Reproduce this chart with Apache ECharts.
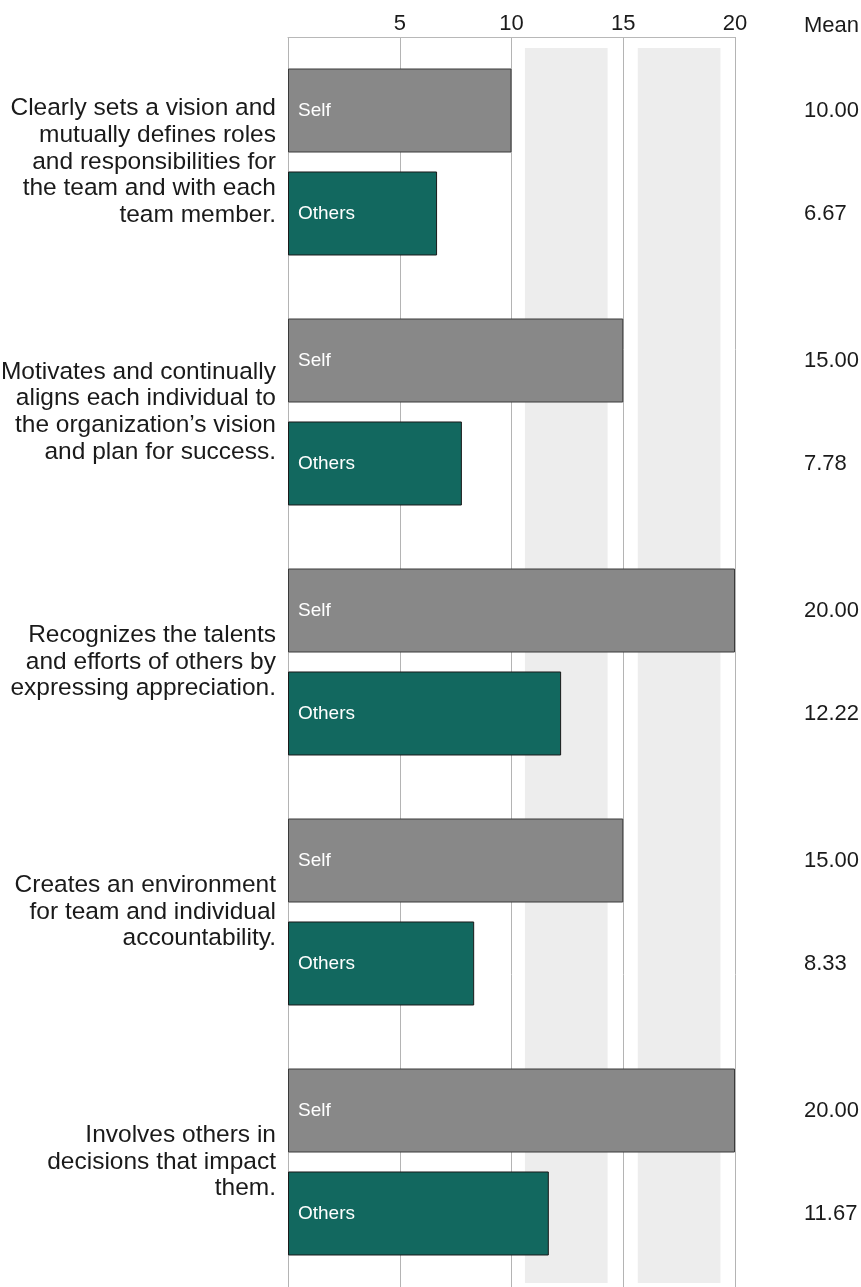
<!DOCTYPE html>
<html>
<head>
<meta charset="utf-8">
<script src="https://cdn.jsdelivr.net/npm/echarts@6/dist/echarts.min.js"></script>
<style>
  html, body { margin: 0; padding: 0; background: #ffffff; }
  #chart { width: 861px; height: 1287px; }
</style>
</head>
<body>
<div id="chart"></div>
<script>
// Leadership items, self rating vs. others' mean rating
const categories = [
  'Clearly sets a vision and\nmutually defines roles\nand responsibilities for\nthe team and with each\nteam member.',
  'Motivates and continually\naligns each individual to\nthe organization\u2019s vision\nand plan for success.',
  'Recognizes the talents\nand efforts of others by\nexpressing appreciation.',
  'Creates an environment\nfor team and individual\naccountability.',
  'Involves others in\ndecisions that impact\nthem.'
];
const selfValues = [10.00, 15.00, 20.00, 15.00, 20.00];
const othersValues = [6.67, 7.78, 12.22, 8.33, 11.67];
const xTicks = [0, 5, 10, 15, 20];
// shaded reference ranges on the score scale
const bands = [[10.6, 14.3], [15.65, 19.35]];

const FONT = '"Liberation Sans", Arial, sans-serif';
const chart = echarts.init(document.getElementById('chart'), null, { renderer: 'canvas' });

chart.setOption({
  animation: false,
  backgroundColor: '#ffffff',
  textStyle: { fontFamily: FONT },
  title: {
    text: 'Mean',
    left: 804,
    top: 15,
    padding: 0,
    textStyle: { fontFamily: FONT, fontSize: 22, fontWeight: 'normal', color: '#1a1a1a' }
  },
  grid: { left: 288, top: 37, width: 447, height: 1250, outerBoundsMode: 'none', containLabel: false },
  xAxis: {
    type: 'value',
    position: 'top',
    min: xTicks[0],
    max: xTicks[xTicks.length - 1],
    interval: xTicks[1] - xTicks[0],
    axisLine: { show: true, lineStyle: { color: '#b8b8b8', width: 1 } },
    axisTick: { show: false },
    splitLine: { show: true, lineStyle: { color: '#b4b4b4', width: 1 } },
    axisLabel: {
      showMinLabel: false,
      margin: 2,
      fontFamily: FONT,
      fontSize: 22,
      color: '#1a1a1a'
    }
  },
  yAxis: [
    {
      type: 'category',
      data: categories,
      inverse: true,
      axisLine: { show: false },
      axisTick: { show: false },
      splitLine: { show: false },
      axisLabel: {
        margin: 12,
        align: 'right',
        fontFamily: FONT,
        fontSize: 24.5,
        lineHeight: 26.7,
        color: '#1a1a1a'
      }
    },
    {
      type: 'category',
      data: categories,
      inverse: true,
      position: 'right',
      axisLine: { show: false },
      axisTick: { show: false },
      splitLine: { show: false },
      axisLabel: {
        margin: 69,
        align: 'left',
        fontFamily: FONT,
        fontSize: 22,
        lineHeight: 103,
        color: '#1a1a1a',
        formatter: function (value, index) {
          return selfValues[index].toFixed(2) + '\n' + othersValues[index].toFixed(2);
        }
      }
    }
  ],
  series: [
    {
      type: 'custom',
      name: 'bands',
      silent: true,
      z: 1,
      encode: { x: [0, 1], y: 2 },
      data: bands.map(function (b) { return [b[0], b[1], 0]; }),
      renderItem: function (params, api) {
        const cs = params.coordSys;
        const x0 = api.coord([api.value(0), 0])[0];
        const x1 = api.coord([api.value(1), 0])[0];
        return {
          type: 'rect',
          shape: { x: x0, y: cs.y + 11, width: x1 - x0, height: cs.height - 15 },
          style: { fill: '#ededed' }
        };
      }
    },
    {
      type: 'bar',
      name: 'Self',
      z: 3,
      data: selfValues,
      barWidth: 84,
      barGap: '22.6%',
      itemStyle: { color: '#888888', borderColor: '#3a3a3a', borderWidth: 1 },
      label: {
        show: true,
        position: 'insideLeft',
        distance: 10,
        formatter: '{a}',
        fontFamily: FONT,
        fontSize: 19,
        color: '#ffffff'
      }
    },
    {
      type: 'bar',
      name: 'Others',
      z: 3,
      data: othersValues,
      barWidth: 84,
      barGap: '22.6%',
      itemStyle: { color: '#12685f', borderColor: '#1a1a1a', borderWidth: 1 },
      label: {
        show: true,
        position: 'insideLeft',
        distance: 10,
        formatter: '{a}',
        fontFamily: FONT,
        fontSize: 19,
        color: '#ffffff'
      }
    }
  ]
});
</script>
</body>
</html>
